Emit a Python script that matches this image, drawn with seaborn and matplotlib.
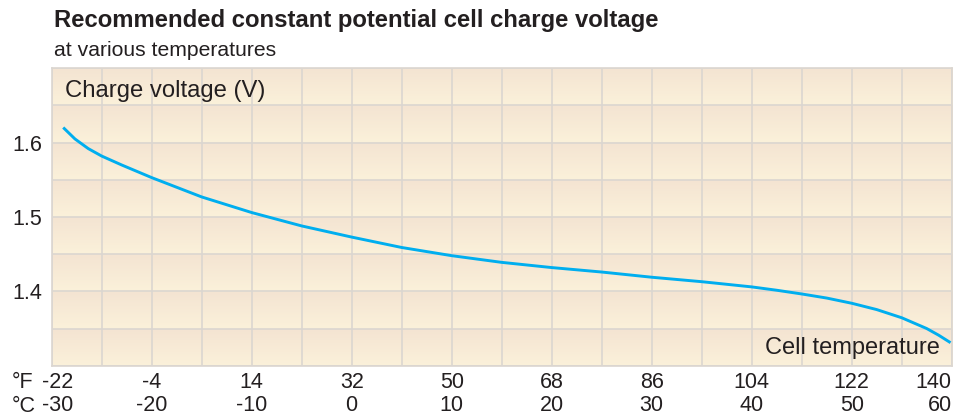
import numpy as np
import pandas as pd
import seaborn as sns
import matplotlib.pyplot as plt
from matplotlib.transforms import ScaledTranslation

# Data
temp_c = [-28.74, -27.67, -26.34, -25, -23, -20, -15, -10, -5, 0, 5, 10,
          15, 20, 25, 30, 35, 40, 42.5, 45, 47.5, 50, 52.5, 55, 57.5, 58.7, 59.76]
voltage = [1.619, 1.605, 1.592, 1.582, 1.570, 1.553, 1.527, 1.506, 1.488,
           1.473, 1.459, 1.448, 1.439, 1.432, 1.426, 1.419, 1.413, 1.406,
           1.4015, 1.3965, 1.391, 1.384, 1.3755, 1.3645, 1.350, 1.341, 1.332]

tick_c = [-30, -20, -10, 0, 10, 20, 30, 40, 50, 60]
tick_f = [-22, -4, 14, 32, 50, 68, 86, 104, 122, 140]
ytick_labels = ['1.4', '1.5', '1.6']

df = pd.DataFrame({'temp': temp_c, 'volt': voltage})

plt.rcParams['font.family'] = ['Liberation Sans', 'DejaVu Sans']
TXT = '#231f20'
GRID = '#dbd6d0'
TICK_FS = 15.5

fig = plt.figure(figsize=(9.62, 4.16), dpi=100)
ax = fig.add_axes([0.0537, 0.1209, 0.9356, 0.7149])

# gradient background, one gradient per grid row
top = np.array([244, 228, 210]) / 255
bot = np.array([251, 241, 218]) / 255
steps = 40
row = np.array([top + (bot - top) * t for t in np.linspace(0, 1, steps)])
bg = np.tile(row, (8, 1))[:, None, :]
ax.imshow(bg, extent=[-30, 60, 1.3, 1.7], aspect='auto', origin='upper', zorder=0)

sns.lineplot(data=df, x='temp', y='volt', ax=ax, color='#00aeef', linewidth=2.1,
             zorder=3)

ax.set_xlim(-30, 60)
ax.set_ylim(1.3, 1.7)
ax.set_xticks(np.arange(-30, 61, 5))
ax.set_xticklabels([])
yt = np.round(np.arange(1.3, 1.701, 0.05), 2)
ax.set_yticks(yt)
ax.set_yticklabels([f'{v:.2f}'.rstrip('0') if f'{v:.2f}'.rstrip('0') in ytick_labels else ''
                    for v in yt], fontsize=TICK_FS, color=TXT)
ax.tick_params(length=0)
ax.tick_params(axis='y', pad=7)
ax.grid(True, color=GRID, linewidth=1.2, zorder=1)
ax.set_axisbelow(False)
for s in ax.spines.values():
    s.set_color(GRID)
    s.set_linewidth(1.2)
ax.set_xlabel('')
ax.set_ylabel('')

# two-row temperature labels
xt = ax.get_xaxis_transform()
for i, (c, f) in enumerate(zip(tick_c, tick_f)):
    ha = 'center'
    tr = xt
    if i == 0:
        tr = xt + ScaledTranslation(6 / 100, 0, fig.dpi_scale_trans)
    if i == len(tick_c) - 1:
        ha = 'right'
    ax.text(c, -0.055, str(f), transform=tr, ha=ha, va='center', fontsize=TICK_FS, color=TXT)
    ax.text(c, -0.135, str(c), transform=tr, ha=ha, va='center', fontsize=TICK_FS, color=TXT)
fig.text(12 / 962, 1 - 382 / 416, '°F', ha='left', va='center', fontsize=TICK_FS, color=TXT)
fig.text(12 / 962, 1 - 406 / 416, '°C', ha='left', va='center', fontsize=TICK_FS, color=TXT)

fig.text(65 / 962, 1 - 91 / 416, 'Charge voltage (V)', ha='left', va='center',
         fontsize=17.2, color=TXT)
fig.text(940 / 962, 1 - 348 / 416, 'Cell temperature', ha='right', va='center',
         fontsize=17, color=TXT)

fig.text(54 / 962, 1 - 20 / 416, 'Recommended constant potential cell charge voltage',
         ha='left', va='center', fontsize=17.2, fontweight='bold', color=TXT)
fig.text(54 / 962, 1 - 50 / 416, 'at various temperatures', ha='left', va='center',
         fontsize=15.2, color=TXT)

fig.savefig('out.png', dpi=100, facecolor='white')
